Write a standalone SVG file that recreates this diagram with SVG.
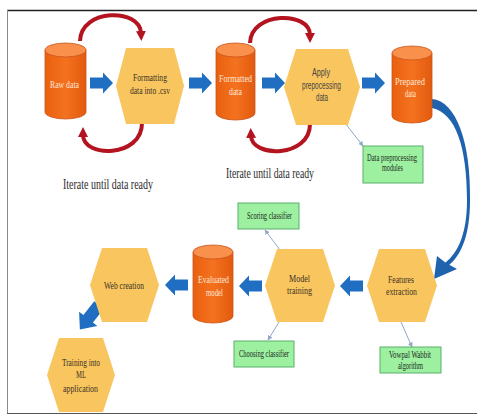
<svg xmlns="http://www.w3.org/2000/svg" xmlns:xlink="http://www.w3.org/1999/xlink" width="477" height="416" viewBox="0 0 477 416">
<style>
.cylbody{fill:url(#cylgrad);stroke:#C9531A;stroke-width:0.8}
.cyltop{fill:#F9914C;stroke:#C9531A;stroke-width:0.8}
.hex{fill:#F9C55E}
.green{fill:#9CF0A0;stroke:#5BAF6C;stroke-width:1}
.ct{font-family:"Liberation Serif",serif;font-size:10.5px;fill:#FDE6D6;text-anchor:start}
.ht{font-family:"Liberation Serif",serif;font-size:10.5px;fill:#3A3226}
.hs{font-family:"Liberation Sans",sans-serif;font-size:10px;fill:#444}
.gt{font-family:"Liberation Serif",serif;font-size:10px;fill:#1E2A1E}
.it{font-family:"Liberation Serif",serif;font-size:14.5px;fill:#2B2B2B}
.barrow{fill:#1F6EC2}
.red{fill:none;stroke:#B3141F;stroke-width:4}
.thin{fill:none;stroke:#8FA8C6;stroke-width:1}
</style>
<defs>
<linearGradient id="cylgrad" x1="0" y1="0" x2="1" y2="0">
<stop offset="0" stop-color="#E9600F"/>
<stop offset="0.5" stop-color="#F4721F"/>
<stop offset="1" stop-color="#E25A0E"/>
</linearGradient>
<path id="ba" d="M0,-5.5 H13 V-10.5 L23,0 L13,10.5 V5.5 H0 Z"/>
<marker id="rh" viewBox="0 0 10 10" refX="2" refY="5" markerWidth="10" markerHeight="10" markerUnits="userSpaceOnUse" orient="auto">
<path d="M0,0 L10,5 L0,10 Z" fill="#B3141F"/>
</marker>
<marker id="th" viewBox="0 0 10 10" refX="9" refY="5" markerWidth="5" markerHeight="5" markerUnits="userSpaceOnUse" orient="auto">
<path d="M0,0 L10,5 L0,10 Z" fill="#8FA8C6"/>
</marker>
</defs>
<rect width="477" height="416" fill="#FFFFFF"/>
<g id="frame">
<line x1="7" y1="10.5" x2="477" y2="10.5" stroke="#222" stroke-width="1.5"/>
<line x1="7.5" y1="10" x2="7.5" y2="414" stroke="#8A8A8A" stroke-width="1"/>
<line x1="7" y1="413.5" x2="477" y2="413.5" stroke="#555" stroke-width="1.2"/>
</g>

<g id="connectors">
<use xlink:href="#ba" class="barrow" transform="translate(90,83)"/>
<use xlink:href="#ba" class="barrow" transform="translate(189,83)"/>
<use xlink:href="#ba" class="barrow" transform="translate(262,83)"/>
<use xlink:href="#ba" class="barrow" transform="translate(362,83)"/>
<use xlink:href="#ba" class="barrow" transform="translate(363,286) scale(-1,1)"/>
<use xlink:href="#ba" class="barrow" transform="translate(262,286) scale(-1,1)"/>
<use xlink:href="#ba" class="barrow" transform="translate(188,285) scale(-1,1)"/>
<use xlink:href="#ba" class="barrow" transform="translate(99,305) rotate(128) scale(1.35,1.1)"/>
<path class="red" d="M80,41 C81,8 140,8 141,33" marker-end="url(#rh)"/>
<path class="red" d="M142,123 C142,158 83,158 83,135" marker-end="url(#rh)"/>
<path class="red" d="M250,43 C251,11 310,11 310,35" marker-end="url(#rh)"/>
<path class="red" d="M310,124 C310,158 252,158 251,136" marker-end="url(#rh)"/>
<path fill="#1F62AE" d="M432,99 C456,101 471,142 470,200 C470,234 462,255 448,266 L445,263 C459,252 467,232 467,200 C467,148 456,113 432,108 Z"/>
<path fill="#1F62AE" d="M434,279 L437,256 L446,263 L457,269 Z"/>
<line class="thin" x1="345" y1="123" x2="363" y2="146" marker-end="url(#th)"/>
<line class="thin" x1="280" y1="250" x2="265" y2="230" marker-end="url(#th)"/>
<line class="thin" x1="279" y1="322" x2="268" y2="340" marker-end="url(#th)"/>
<line class="thin" x1="401" y1="322" x2="412" y2="347" marker-end="url(#th)"/>
</g>

<g id="raw-data">
<path class="cylbody" d="M45,50 V112 A20.5,7 0 0 0 86,112 V50 Z"/>
<ellipse class="cyltop" cx="65.5" cy="50" rx="20.5" ry="7"/>
<text class="ct" x="50" y="88" textLength="29" lengthAdjust="spacingAndGlyphs">Raw data</text>
</g>

<g id="formatting">
<polygon class="hex" points="116,86 126,48 174,48 184,86 174,124 126,124"/>
<text class="ht" x="133" y="81" textLength="34" lengthAdjust="spacingAndGlyphs">Formatting</text>
<text class="ht" x="130" y="94" textLength="40" lengthAdjust="spacingAndGlyphs">data into .csv</text>
</g>

<g id="formatted-data">
<path class="cylbody" d="M216,50 V113 A19.5,7 0 0 0 255,113 V50 Z"/>
<ellipse class="cyltop" cx="235.5" cy="50" rx="19.5" ry="7"/>
<text class="ct" x="219" y="82" textLength="33" lengthAdjust="spacingAndGlyphs">Formatted</text>
<text class="ct" x="229" y="95" textLength="13" lengthAdjust="spacingAndGlyphs">data</text>
</g>

<g id="apply">
<polygon class="hex" points="284,87 296,49 348,49 360,87 348,125 296,125"/>
<text class="hs" x="312" y="76" textLength="18" lengthAdjust="spacingAndGlyphs">Apply</text>
<text class="hs" x="302" y="89" textLength="39" lengthAdjust="spacingAndGlyphs">prepocessing</text>
<text class="hs" x="316" y="101" textLength="12" lengthAdjust="spacingAndGlyphs">data</text>
</g>

<g id="prepared-data">
<path class="cylbody" d="M392,53 V116 A20,7 0 0 0 432,116 V53 Z"/>
<ellipse class="cyltop" cx="412" cy="53" rx="20" ry="7"/>
<text class="ct" x="395" y="85" textLength="30" lengthAdjust="spacingAndGlyphs">Prepared</text>
<text class="ct" x="405" y="97" textLength="11" lengthAdjust="spacingAndGlyphs">data</text>
</g>

<g id="iterate-1">
<text class="it" x="63" y="189" textLength="90" lengthAdjust="spacingAndGlyphs">Iterate until data ready</text>
</g>
<g id="iterate-2">
<text class="it" x="226" y="178" textLength="88" lengthAdjust="spacingAndGlyphs">Iterate until data ready</text>
</g>

<g id="data-preprocessing-modules">
<rect class="green" x="363" y="146" width="60" height="37"/>
<text class="gt" x="367" y="161" textLength="50" lengthAdjust="spacingAndGlyphs">Data preprocessing</text>
<text class="gt" x="382" y="171" textLength="21" lengthAdjust="spacingAndGlyphs">modules</text>
</g>

<g id="features-extraction">
<polygon class="hex" points="367,285.5 379,249 425,249 437,285.5 425,322 379,322"/>
<text class="ht" x="388" y="283" textLength="26" lengthAdjust="spacingAndGlyphs">Features</text>
<text class="ht" x="386" y="295" textLength="31" lengthAdjust="spacingAndGlyphs">extraction</text>
</g>

<g id="vowpal-wabbit">
<rect class="green" x="380" y="347" width="61" height="26"/>
<text class="gt" x="389" y="358" textLength="42" lengthAdjust="spacingAndGlyphs">Vowpal Wabbit</text>
<text class="gt" x="398" y="369" textLength="25" lengthAdjust="spacingAndGlyphs">algorithm</text>
</g>

<g id="model-training">
<polygon class="hex" points="265,285.5 277,249 323,249 335,285.5 323,322 277,322"/>
<text class="ht" x="289" y="282" textLength="21" lengthAdjust="spacingAndGlyphs">Model</text>
<text class="ht" x="287" y="294" textLength="25" lengthAdjust="spacingAndGlyphs">training</text>
</g>

<g id="scoring-classifier">
<rect class="green" x="238" y="203" width="61" height="26"/>
<text class="gt" x="247" y="219" textLength="45" lengthAdjust="spacingAndGlyphs">Scoring classifier</text>
</g>

<g id="choosing-classifier">
<rect class="green" x="234" y="341" width="60" height="26"/>
<text class="gt" x="239" y="357" textLength="50" lengthAdjust="spacingAndGlyphs">Choosing classifier</text>
</g>

<g id="evaluated-model">
<path class="cylbody" d="M193,252 V316 A20,7 0 0 0 233,316 V252 Z"/>
<ellipse class="cyltop" cx="213" cy="252" rx="20" ry="7"/>
<text class="ct" x="198" y="283" textLength="31" lengthAdjust="spacingAndGlyphs">Evaluated</text>
<text class="ct" x="206" y="296" textLength="17" lengthAdjust="spacingAndGlyphs">model</text>
</g>

<g id="web-creation">
<polygon class="hex" points="90,285 102,248 147,248 159,285 147,322 102,322"/>
<text class="ht" x="104" y="289" textLength="40" lengthAdjust="spacingAndGlyphs">Web creation</text>
</g>

<g id="training-ml">
<polygon class="hex" points="47,375 59,338 103,338 115,375 103,412 59,412"/>
<text class="ht" x="62" y="366" textLength="38" lengthAdjust="spacingAndGlyphs">Training into</text>
<text class="ht" x="76" y="378" textLength="10" lengthAdjust="spacingAndGlyphs">ML</text>
<text class="ht" x="63" y="392" textLength="35" lengthAdjust="spacingAndGlyphs">application</text>
</g>
</svg>
